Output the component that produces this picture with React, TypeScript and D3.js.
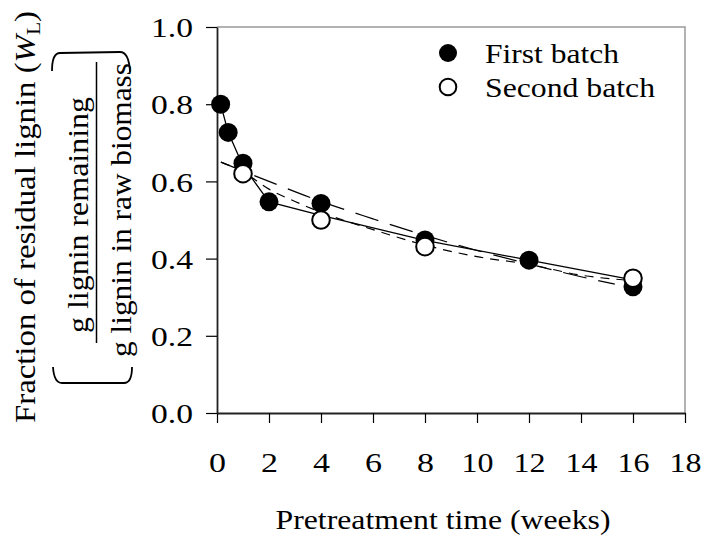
import * as React from 'react';
import * as d3 from 'd3';

// measured points (weeks, fraction of lignin left)
const weeksFirst = [0.14, 0.43, 1, 2, 4, 8, 12, 16];
const fractionFirst = [0.8, 0.727, 0.647, 0.547, 0.543, 0.448, 0.396, 0.327];
const weeksSecond = [1, 4, 8, 16];
const fractionSecond = [0.62, 0.5, 0.431, 0.349];

// fitted curves
const weeksSolid = [0.14, 0.43, 1, 2, 4, 8, 12, 16];
const fitSolid = [0.8, 0.727, 0.64, 0.547, 0.512, 0.447, 0.396, 0.345];
const weeksLongDash = [0.15, 2, 4, 6, 8, 10, 12, 14, 15.3];
const fitLongDash = [0.65, 0.6, 0.548, 0.503, 0.46, 0.421, 0.386, 0.353, 0.334];
const weeksShortDash = [0.15, 1, 2, 3, 4, 6, 8, 10, 12, 14, 16];
const fitShortDash = [0.65, 0.625, 0.58, 0.548, 0.52, 0.475, 0.435, 0.405, 0.385, 0.357, 0.343];

const xTicks = [0, 2, 4, 6, 8, 10, 12, 14, 16, 18];
const yTicks = [0, 0.2, 0.4, 0.6, 0.8, 1.0];
const legendLabels = ['First batch', 'Second batch'];
const legendWidths = [134, 170];

const FONT = 'Liberation Serif, Times New Roman, serif';
const H_SIZE = '27px';
const V_SIZE = '29px';

const width = 702;
const height = 538;
const margin = { top: 27, right: 17, bottom: 125, left: 217 };

const toPairs = (xs: number[], ys: number[]) => xs.map((t, i) => [t, ys[i]] as [number, number]);

const App = () => {
  const ref = React.useRef<SVGSVGElement>(null);

  React.useEffect(() => {
    const svg = d3.select(ref.current);
    svg.selectAll('*').remove();

    const x = d3
      .scaleLinear()
      .domain([0, 18])
      .range([margin.left, width - margin.right]);
    const y = d3
      .scaleLinear()
      .domain([0, 1])
      .range([height - margin.bottom, margin.top]);

    const x0 = x(0);
    const x1 = x(18);
    const yBottom = y(0);
    const yTop = y(1);

    // grey frame on top and right
    svg
      .append('path')
      .attr('d', `M${x0},${yTop}H${x1}V${yBottom}`)
      .attr('fill', 'none')
      .attr('stroke', '#999')
      .attr('stroke-width', 1.5);

    // axes
    const xAxis = svg
      .append('g')
      .attr('transform', `translate(0,${yBottom})`)
      .call(d3.axisBottom(x).tickValues(xTicks).tickSize(10).tickSizeOuter(0).tickFormat(d3.format('d')));
    xAxis
      .selectAll<SVGTextElement, number>('text')
      .attr('y', 59)
      .attr('dy', 0)
      .attr('textLength', (d) => (d >= 10 ? 32 : 17))
      .attr('lengthAdjust', 'spacingAndGlyphs');

    const yAxis = svg
      .append('g')
      .attr('transform', `translate(${x0},0)`)
      .call(d3.axisLeft(y).tickValues(yTicks).tickSize(11).tickSizeOuter(0).tickFormat(d3.format('.1f')));
    yAxis
      .selectAll('text')
      .attr('x', -24)
      .attr('dy', '0.36em')
      .attr('textLength', 42)
      .attr('lengthAdjust', 'spacingAndGlyphs');

    [xAxis, yAxis].forEach((g) => {
      g.attr('font-family', null).style('font-family', FONT).attr('font-size', null).style('font-size', H_SIZE);
      g.selectAll('text').attr('fill', '#000');
      g.select('.domain').attr('stroke', '#222').attr('stroke-width', 1.8);
      g.selectAll('.tick line').attr('stroke', '#000').attr('stroke-width', 1.2);
    });

    // curves
    const line = d3
      .line<[number, number]>()
      .x((d) => x(d[0]))
      .y((d) => y(d[1]));
    const smooth = d3
      .line<[number, number]>()
      .x((d) => x(d[0]))
      .y((d) => y(d[1]))
      .curve(d3.curveMonotoneX);

    svg
      .append('path')
      .datum(toPairs(weeksLongDash, fitLongDash))
      .attr('d', smooth)
      .attr('fill', 'none')
      .attr('stroke', '#000')
      .attr('stroke-width', 1.2)
      .attr('stroke-dasharray', '24,12');

    svg
      .append('path')
      .datum(toPairs(weeksShortDash, fitShortDash))
      .attr('d', smooth)
      .attr('fill', 'none')
      .attr('stroke', '#000')
      .attr('stroke-width', 1.2)
      .attr('stroke-dasharray', '9,7');

    svg
      .append('path')
      .datum(toPairs(weeksSolid, fitSolid))
      .attr('d', line)
      .attr('fill', 'none')
      .attr('stroke', '#000')
      .attr('stroke-width', 1.3);

    // points
    svg
      .append('g')
      .selectAll('circle')
      .data(toPairs(weeksFirst, fractionFirst))
      .join('circle')
      .attr('cx', (d) => x(d[0]))
      .attr('cy', (d) => y(d[1]))
      .attr('r', 9.5)
      .attr('fill', '#000');

    svg
      .append('g')
      .selectAll('circle')
      .data(toPairs(weeksSecond, fractionSecond))
      .join('circle')
      .attr('cx', (d) => x(d[0]))
      .attr('cy', (d) => y(d[1]))
      .attr('r', 8.8)
      .attr('fill', '#fff')
      .attr('stroke', '#000')
      .attr('stroke-width', 2);

    // legend
    const legend = svg.append('g').style('font-family', FONT).style('font-size', H_SIZE);
    legendLabels.forEach((label, i) => {
      const cy = 53 + i * 34;
      legend
        .append('circle')
        .attr('cx', 448)
        .attr('cy', cy)
        .attr('r', i === 0 ? 9 : 8.3)
        .attr('fill', i === 0 ? '#000' : '#fff')
        .attr('stroke', '#000')
        .attr('stroke-width', i === 0 ? 0 : 2);
      legend
        .append('text')
        .attr('x', 485)
        .attr('y', cy + 10)
        .attr('textLength', legendWidths[i])
        .attr('lengthAdjust', 'spacingAndGlyphs')
        .text(label);
    });

    // x axis title
    svg
      .append('text')
      .attr('x', 443)
      .attr('y', 529)
      .attr('text-anchor', 'middle')
      .attr('textLength', 335)
      .attr('lengthAdjust', 'spacingAndGlyphs')
      .style('font-family', FONT)
      .style('font-size', H_SIZE)
      .text('Pretreatment time (weeks)');

    // y axis title with the bracketed fraction
    const yTitle = svg.append('g').style('font-family', FONT).style('font-size', V_SIZE);
    const main = yTitle
      .append('text')
      .attr('transform', 'translate(35,217) rotate(-90)')
      .attr('text-anchor', 'middle')
      .attr('textLength', 412)
      .attr('lengthAdjust', 'spacingAndGlyphs');
    main.append('tspan').text('Fraction of residual lignin (');
    main.append('tspan').style('font-style', 'italic').text('W');
    main.append('tspan').style('font-size', '19px').attr('dy', 5).text('L');
    main.append('tspan').attr('dy', -5).text(')');

    yTitle
      .append('text')
      .attr('transform', 'translate(88,215) rotate(-90)')
      .attr('text-anchor', 'middle')
      .attr('textLength', 236)
      .attr('lengthAdjust', 'spacingAndGlyphs')
      .text('g lignin remaining');
    yTitle
      .append('text')
      .attr('transform', 'translate(131,210) rotate(-90)')
      .attr('text-anchor', 'middle')
      .attr('textLength', 294)
      .attr('lengthAdjust', 'spacingAndGlyphs')
      .text('g lignin in raw biomass');

    yTitle
      .append('line')
      .attr('x1', 96.5)
      .attr('x2', 96.5)
      .attr('y1', 62)
      .attr('y2', 343)
      .attr('stroke', '#000')
      .attr('stroke-width', 1.5);

    yTitle
      .append('path')
      .attr('d', 'M52,71 Q52,53 60,53 L120,52 Q129,52 130,72')
      .attr('fill', 'none')
      .attr('stroke', '#000')
      .attr('stroke-width', 1.8);
    yTitle
      .append('path')
      .attr('d', 'M53,367 Q54,383 62,383 L124,383 Q132,383 132,367')
      .attr('fill', 'none')
      .attr('stroke', '#000')
      .attr('stroke-width', 1.8);
  });

  return (
    <svg
      ref={ref}
      width={width}
      height={height}
      style={{ position: 'absolute', left: 0, top: 0, background: '#fff' }}
    />
  );
};

export default App;
